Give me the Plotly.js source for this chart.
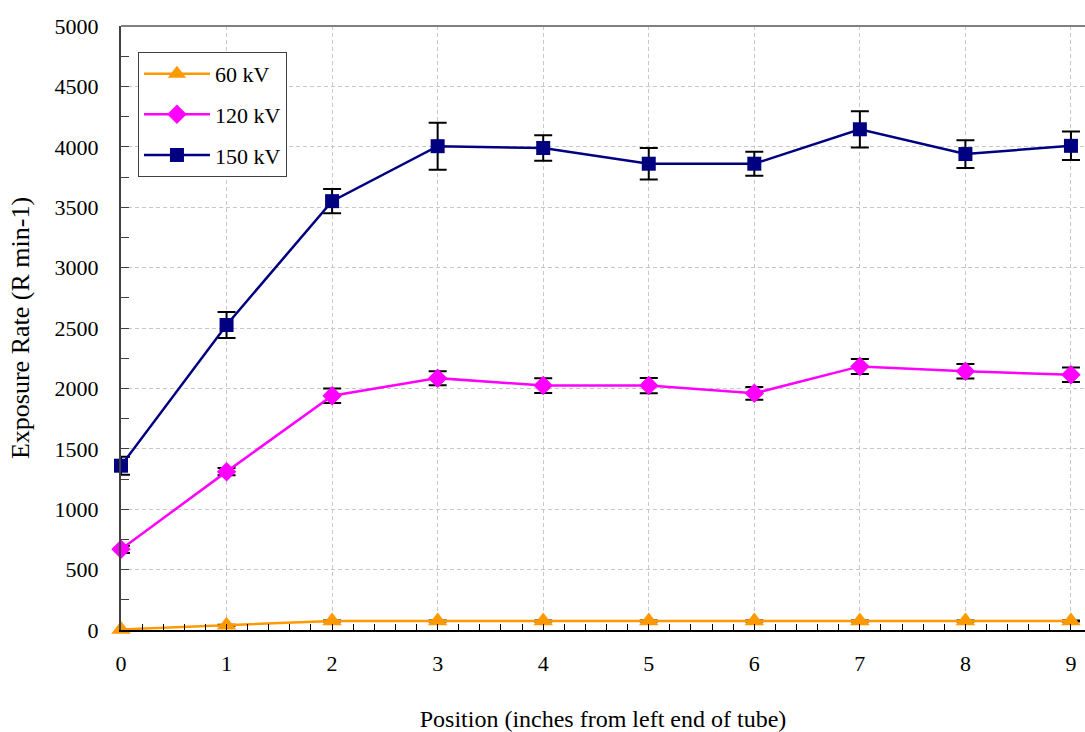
<!DOCTYPE html>
<html>
<head>
<meta charset="utf-8">
<script src="https://cdn.plot.ly/plotly-3.0.1.min.js"></script>
<style>html,body{margin:0;padding:0;background:#fff;}#chart{width:1085px;height:732px;}</style>
</head>
<body>
<div id="chart"></div>
<script>
// Data
const positions = [0, 1, 2, 3, 4, 5, 6, 7, 8, 9];
const seriesNames = ["60 kV", "120 kV", "150 kV"];
const kv60 = [5, 40, 75, 75, 75, 75, 75, 75, 75, 75];
const kv60Err = [4, 4, 4, 4, 4, 4, 4, 4, 4, 4];
const kv120 = [668, 1311, 1940, 2085, 2023, 2023, 1959, 2182, 2141, 2113];
const kv120Err = [30, 30, 60, 58, 62, 63, 52, 62, 60, 60];
const kv150 = [1360, 2525, 3550, 4005, 3990, 3860, 3860, 4145, 3940, 4008];
const kv150Err = [75, 108, 100, 195, 105, 130, 100, 150, 115, 118];
const yTicks = [0, 500, 1000, 1500, 2000, 2500, 3000, 3500, 4000, 4500, 5000];

const serif = "Liberation Serif, Times New Roman, serif";

function errBar(arr) {
  return {type: 'data', array: arr, visible: true, color: '#000000', thickness: 2, width: 9};
}

const traces = [
  {x: positions, y: kv60, name: seriesNames[0], type: 'scatter', mode: 'lines+markers',
   legendgroup: 'a',
   line: {color: '#FF9900', width: 2.5},
   marker: {symbol: 'triangle-up', size: 17, color: '#FF9900'},
   error_y: errBar(kv60Err), cliponaxis: false},
  {x: positions, y: kv120, name: seriesNames[1], type: 'scatter', mode: 'lines+markers',
   legendgroup: 'b',
   line: {color: '#FF00FF', width: 2.5},
   marker: {symbol: 'diamond', size: 15, color: '#FF00FF'},
   error_y: errBar(kv120Err), cliponaxis: false},
  {x: positions, y: kv150, name: seriesNames[2], type: 'scatter', mode: 'lines+markers',
   legendgroup: 'c',
   line: {color: '#000080', width: 2.5},
   marker: {symbol: 'square', size: 14, color: '#000080'},
   error_y: errBar(kv150Err), cliponaxis: false}
];

const layout = {
  width: 1085, height: 732,
  margin: {l: 121, r: 0, t: 26, b: 102},
  paper_bgcolor: '#ffffff', plot_bgcolor: '#ffffff',
  font: {family: serif, size: 22, color: '#000000'},
  showlegend: true,
  legend: {
    x: 0.0176, y: 0.957, xanchor: 'left', yanchor: 'top',
    bgcolor: '#ffffff', bordercolor: '#404040', borderwidth: 1,
    font: {family: serif, size: 22, color: '#000000'},
    traceorder: 'grouped', tracegroupgap: 9, itemwidth: 66
  },
  xaxis: {
    range: [0, 9.133], tickmode: 'array', tickvals: positions, ticktext: positions.map(String),
    showgrid: true, gridcolor: '#c8c8c8', griddash: '4px,3px', gridwidth: 1,
    zeroline: false, showline: true, linecolor: '#000000', linewidth: 2,
    ticks: 'inside', ticklen: 6, tickcolor: '#000000', tickwidth: 1,
    minor: {dtick: 0.2, ticks: 'inside', ticklen: 6, tickcolor: '#000000', tickwidth: 1, showgrid: false},
    ticklabelstandoff: 13,
    tickfont: {family: serif, size: 22},
    title: {text: 'Position (inches from left end of tube)', font: {family: serif, size: 24}, standoff: 54}
  },
  yaxis: {
    range: [0, 5000], tickmode: 'array', tickvals: yTicks, ticktext: yTicks.map(String),
    showgrid: true, gridcolor: '#c8c8c8', griddash: '4px,3px', gridwidth: 1,
    zeroline: false, showline: true, linecolor: '#404040', linewidth: 2,
    ticks: 'inside', ticklen: 8, tickcolor: '#404040', tickwidth: 1,
    minor: {dtick: 250, ticks: 'inside', ticklen: 8, tickcolor: '#404040', tickwidth: 1, showgrid: false},
    ticklabelstandoff: 16,
    tickfont: {family: serif, size: 22},
    title: {text: 'Exposure Rate (R min-1)', font: {family: serif, size: 26}, standoff: 17}
  },
  shapes: [
    {type: 'line', xref: 'paper', yref: 'paper', x0: 0, x1: 1, y0: 1, y1: 1,
     line: {color: '#808080', width: 2}}
  ]
};

Plotly.newPlot('chart', traces, layout, {displayModeBar: false, staticPlot: true});
</script>
</body>
</html>
